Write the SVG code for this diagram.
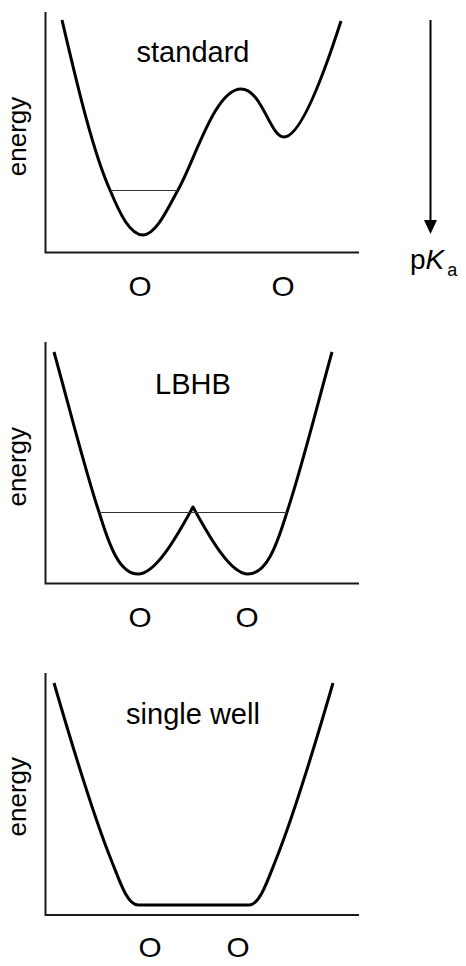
<svg xmlns="http://www.w3.org/2000/svg" width="466" height="966" viewBox="0 0 466 966">
<style>
.axis{fill:none;stroke:#1a1a1a;stroke-width:2}
.curve{fill:none;stroke:#000;stroke-width:3;stroke-linejoin:round;stroke-linecap:butt}
.level{fill:none;stroke:#333;stroke-width:1.2}
.title{font-family:"Liberation Sans",Arial,sans-serif;font-size:29px;fill:#000;text-anchor:middle}
.o{font-family:"Liberation Sans",Arial,sans-serif;font-size:27px;fill:#000;text-anchor:middle}
.ylab{font-family:"Liberation Sans",Arial,sans-serif;font-size:26px;fill:#000;text-anchor:middle}
.pk{font-family:"Liberation Sans",Arial,sans-serif;font-size:28px;fill:#000}
</style>
<rect width="466" height="966" fill="#fff"/>
<g id="panel-standard">
<path class="axis" d="M45.5,12 V252.5 H359"/>
<path class="curve" d="M62,20 C75,75 92,150 110,190 C120,214 130,235 143,235 C156,235 168,208 178,190 C195,160 215,89 241,89 C262,89 270,137 284,137 C300,137 322,80 341,21"/>
<line class="level" x1="110" y1="190.5" x2="178" y2="190.5"/>
<text class="title" x="193" y="62">standard</text>
<text class="ylab" transform="translate(25.5,136.5) rotate(-90)">energy</text>
<text class="o" transform="translate(140,296) scale(1.1,1)">O</text>
<text class="o" transform="translate(283,296) scale(1.1,1)">O</text>
</g>
<g id="panel-lbhb">
<path class="axis" d="M45.5,342 V583.5 H359"/>
<path class="curve" d="M54,352 C70,410 85,470 99,512 C110,548 120,574 138,574 C155,574 175,540 193,507 C211,540 231,574 248,574 C266,574 276,548 287,512 C301,470 316,410 332,352"/>
<line class="level" x1="99" y1="512.5" x2="287" y2="512.5"/>
<text class="title" x="193" y="394">LBHB</text>
<text class="ylab" transform="translate(25.5,466.7) rotate(-90)">energy</text>
<text class="o" transform="translate(140,627) scale(1.1,1)">O</text>
<text class="o" transform="translate(247,627) scale(1.1,1)">O</text>
</g>
<g id="panel-single">
<path class="axis" d="M45.5,673 V915 H359"/>
<path class="curve" d="M54,683 C72,745 93,815 112,862 C121,885 128,905 138,905 L249,905 C259,905 266,885 275,862 C294,815 315,745 333,683"/>
<text class="title" x="193" y="724">single well</text>
<text class="ylab" transform="translate(25.5,796.7) rotate(-90)">energy</text>
<text class="o" transform="translate(150,957) scale(1.1,1)">O</text>
<text class="o" transform="translate(238,957) scale(1.1,1)">O</text>
</g>
<g id="connectors">
<line x1="430.5" y1="20" x2="430.5" y2="222" stroke="#000" stroke-width="2"/>
<polygon points="424,220 437,220 430.5,234" fill="#000"/>
</g>
<g id="pka-label">
<text class="pk" x="410" y="269">p<tspan font-style="italic">K</tspan><tspan font-size="18" dx="3" dy="7">a</tspan></text>
</g>
</svg>
